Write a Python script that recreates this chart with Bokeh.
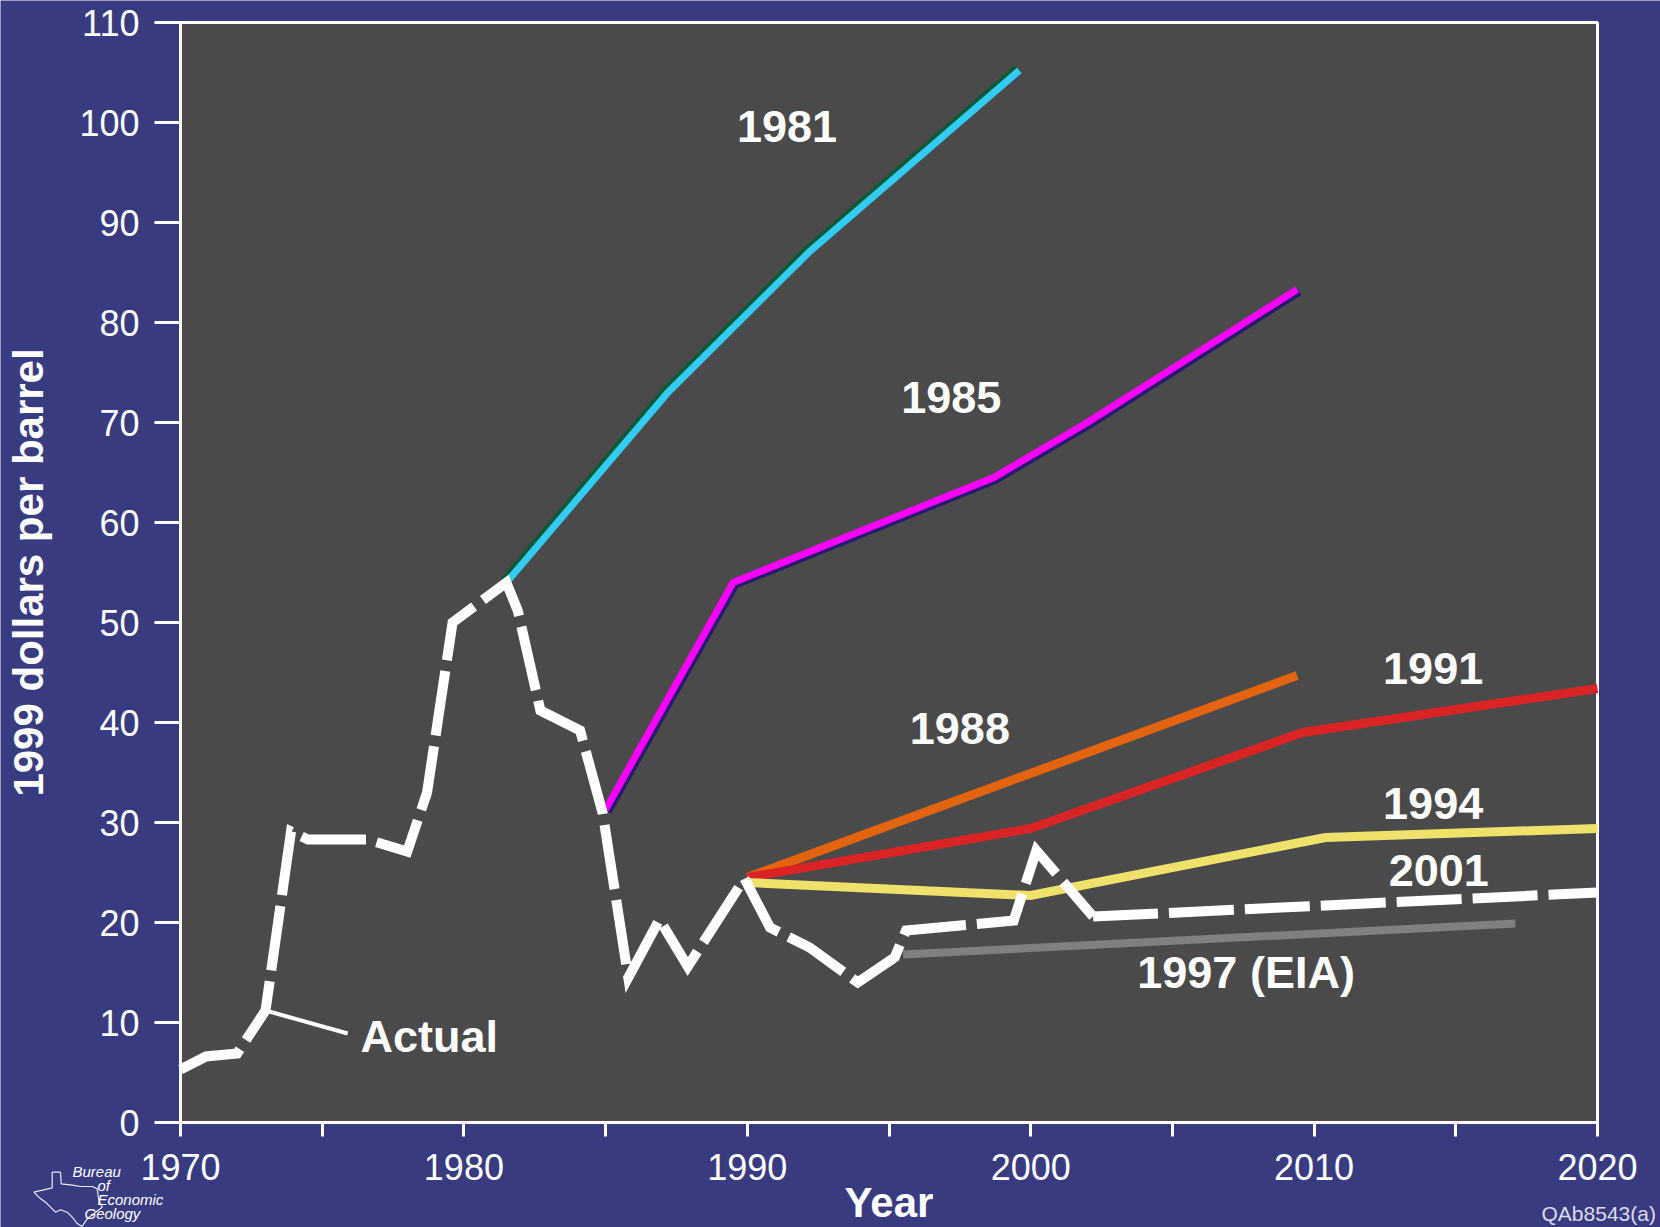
from bokeh.plotting import figure
from bokeh.models import FixedTicker, Label, LinearAxis, ColumnDataSource, Range1d
from bokeh.core.properties import value
from bokeh.embed import file_html
from bokeh.resources import INLINE

# ---- data: oil price, 1999 dollars per barrel ----
actual_years = [1970.0, 1970.9, 1972.0, 1973.0, 1973.9, 1974.5, 1976.6, 1978.0, 1978.7,
                1979.6, 1981.5, 1981.9, 1982.7, 1984.1, 1984.9, 1985.8, 1986.9, 1987.9,
                1989.9, 1990.8, 1992.2, 1993.9, 1995.2, 1995.6, 1999.4, 2000.2, 2002.2]
actual_prices = [5.3, 6.6, 6.9, 11.2, 29.1, 28.3, 28.3, 27.1, 33.0,
                 50.0, 54.0, 51.2, 41.2, 39.2, 30.9, 14.5, 20.3, 15.6,
                 24.4, 19.5, 17.5, 14.0, 16.5, 19.2, 20.2, 27.2, 20.6]

# forecasts, keyed by the year they were made
f1981_years = [1981.5, 1987.2, 1992.2, 1999.6]
f1981_prices = [54.0, 73.0, 87.1, 105.2]

f1985_years = [1985.0, 1989.5, 1998.7, 2002.0, 2009.4]
f1985_prices = [31.3, 54.0, 64.5, 70.0, 83.3]

f1988_years = [1990.0, 2009.4]
f1988_prices = [24.5, 44.7]

f1991_years = [1990.0, 2000.0, 2009.6, 2020.0]
f1991_prices = [24.5, 29.4, 39.0, 43.4]

f1994_years = [1990.0, 2000.0, 2010.4, 2020.0]
f1994_prices = [24.0, 22.7, 28.5, 29.4]

f1997_years = [1995.5, 2017.1]
f1997_prices = [16.8, 19.9]

f2001_years = [2002.2, 2020.0]
f2001_prices = [20.6, 23.0]

x_ticks = [1970, 1980, 1990, 2000, 2010, 2020]
x_minor_ticks = [1975, 1985, 1995, 2005, 2015]
y_ticks = [0, 10, 20, 30, 40, 50, 60, 70, 80, 90, 100, 110]

# ---- style ----
NAVY = "#393b81"
PANEL = "#4b4a4a"
WHITE = "#ffffff"
FONT = "Liberation Sans"

W, H = 1660, 1227
# margins around the grey plotting panel, in pixels
ML, MR, MT, MB = 180, 63, 22, 105
x0, x1, y0, y1 = 1970, 2020, 0, 110
px_x = (W - ML - MR) / (x1 - x0)
px_y = (H - MT - MB) / (y1 - y0)


def to_data(px, py):
    """Canvas pixel position -> data coordinates (for decorations in the margins)."""
    return x0 + (px - ML) / px_x, y0 + (H - MB - py) / px_y


# The frame spans the whole canvas so that the margin decorations are drawn too;
# the grey panel and the axes sit at the data limits.
p = figure(width=W, height=H, output_backend="svg", toolbar_location=None,
           x_range=Range1d(x0 - ML / px_x, x1 + MR / px_x),
           y_range=Range1d(y0 - MB / px_y, y1 + MT / px_y),
           x_axis_location=None, y_axis_location=None,
           min_border=0, min_border_left=0, min_border_right=0,
           min_border_top=0, min_border_bottom=0)
p.background_fill_color = NAVY
p.border_fill_color = NAVY
p.outline_line_color = None
p.grid.visible = False

p.quad(left=[x0], right=[x1], bottom=[y0], top=[y1], fill_color=PANEL,
       line_color=WHITE, line_width=3)

xaxis = LinearAxis(fixed_location=y0, bounds=(x0, x1),
                   ticker=FixedTicker(ticks=x_ticks, minor_ticks=x_minor_ticks))
yaxis = LinearAxis(fixed_location=x0, bounds=(y0, y1), ticker=FixedTicker(ticks=y_ticks))
for ax in (xaxis, yaxis):
    ax.axis_line_color = WHITE
    ax.axis_line_width = 3
    ax.major_tick_line_color = WHITE
    ax.major_tick_line_width = 3
    ax.major_tick_in = 0
    ax.major_label_text_color = WHITE
    ax.major_label_text_font = FONT
    ax.major_label_text_font_size = "36px"
    ax.axis_label_text_color = WHITE
    ax.axis_label_text_font = FONT
    ax.axis_label_text_font_style = "bold"
    ax.axis_label_text_font_size = "42px"

xaxis.major_tick_out = 14
xaxis.minor_tick_out = 14
xaxis.minor_tick_in = 0
xaxis.minor_tick_line_color = WHITE
xaxis.minor_tick_line_width = 3
xaxis.major_label_standoff = 17
xaxis.axis_label = "Year"
xaxis.axis_label_standoff = -4

yaxis.major_tick_out = 26
yaxis.major_label_standoff = 15
yaxis.minor_tick_line_color = None
yaxis.axis_label = "1999 dollars per barrel"
yaxis.axis_label_standoff = 24

p.add_layout(xaxis, "below")
p.add_layout(yaxis, "left")

# small drop shadows along the 1981 and 1985 lines
sx, sy = 2.5 / px_x, 2.5 / px_y

p.line(f1997_years, f1997_prices, line_color="#808080", line_width=8)
p.line([x - sx for x in f1981_years], [y + sy for y in f1981_prices],
       line_color="#0b5a33", line_width=7, line_join="miter")
p.line(f1981_years, f1981_prices, line_color="#33ccf7", line_width=7, line_join="miter")
p.line([x + sx for x in f1985_years], [y - sy for y in f1985_prices],
       line_color="#261c6e", line_width=7, line_join="miter")
p.line(f1985_years, f1985_prices, line_color="#ff00ff", line_width=7, line_join="miter")
p.line(f1988_years, f1988_prices, line_color="#e2640f", line_width=9)
p.line(f1991_years, f1991_prices, line_color="#d92426", line_width=9, line_join="miter")
p.line(f1994_years, f1994_prices, line_color="#efe26c", line_width=9, line_join="miter")
p.line(actual_years, actual_prices, line_color=WHITE, line_width=10,
       line_dash="65 11", line_join="miter")
p.line(f2001_years, f2001_prices, line_color=WHITE, line_width=10, line_dash="65 11")

# leader from the 1973 point to the "Actual" label
p.line([actual_years[3], 1975.9], [actual_prices[3], 8.9], line_color=WHITE, line_width=4)

# series labels
label_text = ["1981", "1985", "1988", "1991", "1994", "2001", "1997 (EIA)"]
label_x = [1991.4, 1997.2, 1997.5, 2014.2, 2014.2, 2014.4, 2007.6]
label_y = [99.6, 72.5, 39.4, 45.4, 31.9, 25.2, 15.0]
src = ColumnDataSource(dict(x=label_x, y=label_y, t=label_text))
p.text("x", "y", text="t", source=src, text_color=WHITE, text_font=value(FONT),
       text_font_style="bold", text_font_size="45px", text_align="center",
       text_baseline="middle")
p.text([1976.35], [8.6], text=["Actual"], text_color=WHITE, text_font=value(FONT),
       text_font_style="bold", text_font_size="45px", text_align="left",
       text_baseline="middle")

# drawing number, bottom right
qx, qy = to_data(1541, 1213)
p.add_layout(Label(x=qx, y=qy, text="QAb8543(a)", text_color="#dcdcec", text_font=FONT,
                   text_font_size="21px", text_baseline="middle", text_align="left"))

# Bureau of Economic Geology mark, bottom left
texas_px = [(33.3, 1191.7), (51.7, 1187.3), (51.7, 1171.7), (60, 1171.7), (60.7, 1183.3),
            (70, 1184.3), (80, 1186), (91.7, 1186), (96.7, 1188.3), (98.3, 1200),
            (101.7, 1206.7), (93.3, 1213.3), (86.7, 1218.3), (83.3, 1223.3), (81.7, 1226),
            (76.7, 1223), (71.7, 1216.7), (66.7, 1211.7), (60, 1209.3), (55, 1211.7),
            (50, 1206.7), (45, 1201.7), (38.3, 1196.7), (33.3, 1191.7)]
tx, ty = zip(*[to_data(a, b) for a, b in texas_px])
p.line(list(tx), list(ty), line_color=WHITE, line_width=1.2, line_alpha=0.9)
for word, lx, ly in [("Bureau", 72, 1171), ("of", 97, 1185),
                     ("Economic", 97, 1199), ("Geology", 84, 1213)]:
    wx, wy = to_data(lx, ly)
    p.add_layout(Label(x=wx, y=wy, text=word, text_color=WHITE, text_font=FONT,
                       text_font_style="italic", text_font_size="15px",
                       text_baseline="middle", text_align="left"))

open("out.html", "w").write(file_html(p, INLINE))
